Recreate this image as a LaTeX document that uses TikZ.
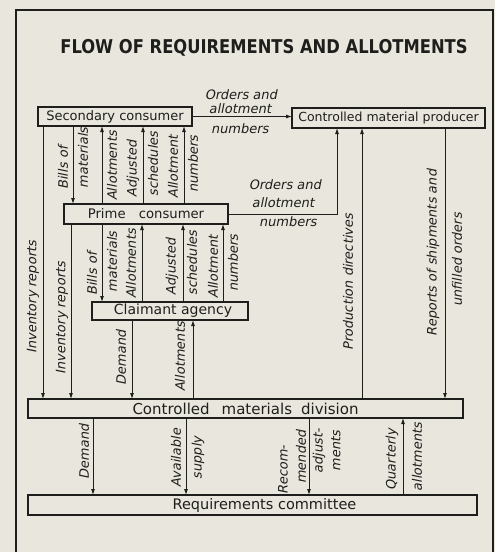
\documentclass[tikz,border=0pt]{standalone}
\usepackage{fontspec}
\setmainfont{DejaVu Sans}
\newfontfamily\labfont{DejaVu Sans}[FakeSlant=0.2]
\usetikzlibrary{arrows.meta,calc}
\definecolor{paper}{RGB}{233,230,221}
\definecolor{ink}{RGB}{30,30,28}
\begin{document}
\begin{tikzpicture}[x=1pt,y=-1pt,
  box/.style={draw=ink, line width=1.7pt, fill=paper, inner sep=0pt, outer sep=0pt, text=ink},
  conn/.style={draw=ink, line width=0.9pt},
  arr/.style={conn, -{Latex[length=6pt,width=4pt]}},
  lab/.style={rotate=90, inner sep=0pt, font=\labfont\fontsize{13}{15}\selectfont, text=ink},
  hlab/.style={inner sep=0pt, font=\labfont\fontsize{13}{15}\selectfont, text=ink}]
\fill[paper] (0,0) rectangle (495,552);
\useasboundingbox (0,0) rectangle (495,552);
\draw[ink, line width=1.6pt] (16,552) -- (16,10) -- (493,10) -- (493,552);

\node[text=ink, inner sep=0pt, font=\fontsize{19}{21}\bfseries\selectfont] (title) at (264,48)
  {\scalebox{0.86}[1]{FLOW OF REQUIREMENTS AND ALLOTMENTS}};

% boxes
\node[box, minimum width=154pt, minimum height=19pt, font=\fontsize{13}{15}\selectfont] (sec) at (115,116.5) {Secondary consumer};
\node[box, minimum width=193pt, minimum height=20pt, font=\fontsize{12.5}{15}\selectfont] (prod) at (388.5,118) {Controlled material producer};
\node[box, minimum width=164pt, minimum height=20pt, font=\fontsize{13.2}{15}\selectfont] (prime) at (146,214) {Prime\hspace{9pt} consumer\hspace{12pt}};
\node[box, minimum width=156pt, minimum height=18pt, font=\fontsize{14}{15}\selectfont] (claim) at (170,311) {\hspace{6pt}Claimant agency};
\node[box, minimum width=435pt, minimum height=19pt, font=\fontsize{15}{16}\selectfont] (cmd) at (245.5,408.5) {Controlled\hspace{12pt}materials\hspace{9pt}division\hspace{11pt}};
\node[box, minimum width=449pt, minimum height=20pt, font=\fontsize{14.5}{16}\selectfont] (req) at (252.5,505) {\hspace{24pt}Requirements committee};

% connector x positions
\coordinate (vInvA) at (43,0);
\coordinate (vBomA) at (73,0);
\coordinate (vAlA) at (102,0);
\coordinate (vAdjA) at (143,0);
\coordinate (vAnA) at (184,0);
\coordinate (vInvB) at (71,0);
\coordinate (vBomB) at (102,0);
\coordinate (vAlB) at (142,0);
\coordinate (vAdjB) at (183,0);
\coordinate (vAnB) at (223,0);
\coordinate (vDemA) at (132,0);
\coordinate (vAlC) at (193,0);
\coordinate (vOrd) at (337,0);
\coordinate (vProd) at (362,0);
\coordinate (vRep) at (445,0);
\coordinate (vDemB) at (93,0);
\coordinate (vAv) at (186,0);
\coordinate (vRec) at (309,0);
\coordinate (vQa) at (403,0);

% connectors
\draw[arr] (sec.east) -- (sec.east -| prod.west);
\draw[arr] (prime.east) -- (prime.east -| vOrd) -- (prod.south -| vOrd);
\draw[arr] (cmd.north -| vProd) -- (prod.south -| vProd);
\draw[arr] (prod.south -| vRep) -- (cmd.north -| vRep);

\draw[arr] (sec.south -| vInvA) -- (cmd.north -| vInvA);
\draw[arr] (sec.south -| vBomA) -- (prime.north -| vBomA);
\draw[arr] (prime.north -| vAlA) -- (sec.south -| vAlA);
\draw[arr] (prime.north -| vAdjA) -- (sec.south -| vAdjA);
\draw[arr] (prime.north -| vAnA) -- (sec.south -| vAnA);

\draw[arr] (prime.south -| vInvB) -- (cmd.north -| vInvB);
\draw[arr] (prime.south -| vBomB) -- (claim.north -| vBomB);
\draw[arr] (claim.north -| vAlB) -- (prime.south -| vAlB);
\draw[arr] (claim.north -| vAdjB) -- (prime.south -| vAdjB);
\draw[arr] (claim.north -| vAnB) -- (prime.south -| vAnB);

\draw[arr] (claim.south -| vDemA) -- (cmd.north -| vDemA);
\draw[arr] (cmd.north -| vAlC) -- (claim.south -| vAlC);

\draw[arr] (cmd.south -| vDemB) -- (req.north -| vDemB);
\draw[arr] (cmd.south -| vAv) -- (req.north -| vAv);
\draw[arr] (cmd.south -| vRec) -- (req.north -| vRec);
\draw[arr] (req.north -| vQa) -- (cmd.south -| vQa);

% horizontal labels
\node[hlab] (o1a) at (241,95) {Orders and};
\node[hlab] (o1b) at (240,109) {allotment};
\node[hlab] (o1c) at (240,129) {numbers};
\node[hlab] (o2a) at (285,185) {Orders and};
\node[hlab] (o2b) at (283,203) {allotment};
\node[hlab] (o2c) at (288,222) {numbers};

% vertical labels
\node[lab] (l1) at (33,297) {Inventory reports};
\node[lab] (l2) at (62,318) {Inventory reports};
\node[lab] (l3) at (63,168) {Bills of};
\node[lab] (l4) at (83,158) {materials};
\node[lab] (l5) at (112,166) {Allotments};
\node[lab] (l6) at (133,169) {Adjusted};
\node[lab] (l7) at (153,164) {schedules};
\node[lab] (l8) at (173,167) {Allotment};
\node[lab] (l9) at (193,164) {numbers};
\node[lab] (l10) at (92,274) {Bills of};
\node[lab] (l11) at (112,262) {materials};
\node[lab] (l12) at (131,264) {Allotments};
\node[lab] (l13) at (172,267) {Adjusted};
\node[lab] (l14) at (192,263) {schedules};
\node[lab] (l15) at (213,267) {Allotment};
\node[lab] (l16) at (233,263) {numbers};
\node[lab] (l17) at (121,358) {Demand};
\node[lab] (l18) at (180,357) {Allotments};
\node[lab] (l19) at (348,282) {Production directives};
\node[lab] (l20) at (433,253) {Reports of shipments and};
\node[lab] (l21) at (457,260) {unfilled orders};
\node[lab] (l22) at (84,452) {Demand};
\node[lab] (l23) at (176,458) {Available};
\node[lab] (l24) at (198,458) {supply};
\node[lab] (l25) at (283,470) {Recom-};
\node[lab] (l26) at (301,457) {mended};
\node[lab] (l27) at (319,451) {adjust-};
\node[lab] (l28) at (336,451) {ments};
\node[lab] (l29) at (392,460) {Quarterly};
\node[lab] (l30) at (417,457) {allotments};
\end{tikzpicture}
\end{document}
